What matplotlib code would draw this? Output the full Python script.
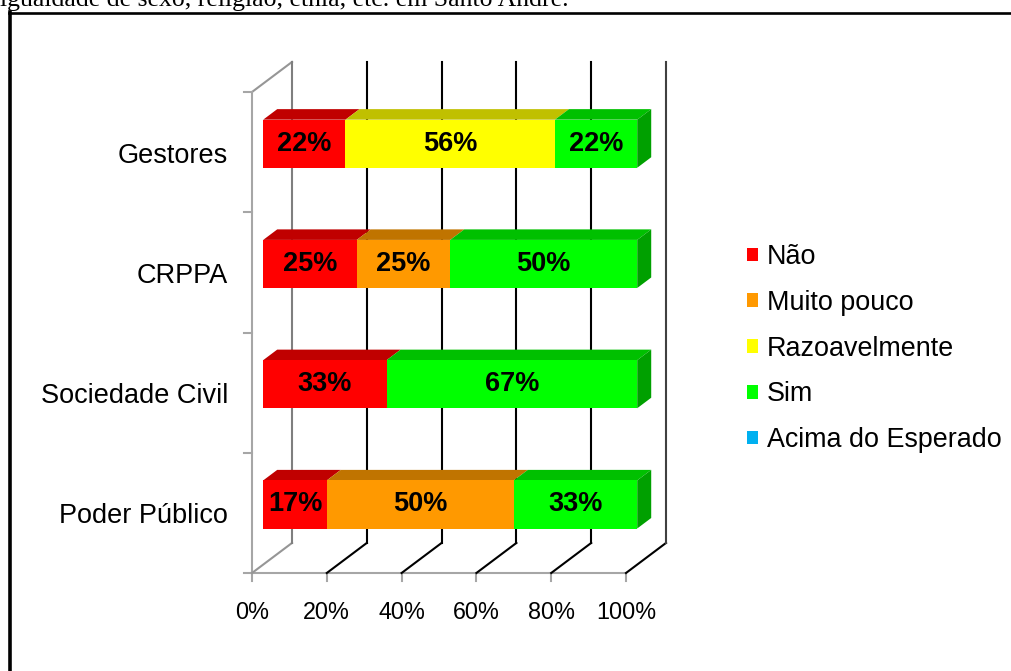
import matplotlib.pyplot as plt
from matplotlib.patches import Polygon, Patch
from matplotlib.lines import Line2D

plt.rcParams['font.family'] = ['Liberation Sans', 'DejaVu Sans']

# dados (de baixo para cima)
categorias = ['Poder Público', 'Sociedade Civil', 'CRPPA', 'Gestores']
series = ['Não', 'Muito pouco', 'Razoavelmente', 'Sim', 'Acima do Esperado']
nao = [17, 33, 25, 22]
muito_pouco = [50, 0, 25, 0]
razoavelmente = [0, 0, 0, 56]
sim = [33, 67, 50, 22]
acima = [0, 0, 0, 0]
ticks = [0, 20, 40, 60, 80, 100]

cores = ['#FF0000', '#FF9900', '#FFFF00', '#00FF00', '#00B0F0']
cores_topo = ['#C00000', '#C07400', '#C0C000', '#00C000', '#0084B4']
cores_lado = ['#A00000', '#A06000', '#A0A000', '#00A000', '#006E96']

# profundidade do "3D" (em unidades de dados)
DX, DY = 10.7, 0.25
T0, T1 = 0.28, 0.63   # frente / fundo das barras
ALT = 0.40            # altura da barra

fig = plt.figure(figsize=(10.12, 6.71), dpi=100)
ax = fig.add_axes([252 / 1012, (671 - 573) / 671, 374 / 1012, 481 / 671])
ax.set_xlim(0, 100)
ax.set_ylim(0, 4)
ax.axis('off')

# parede lateral esquerda
ax.plot([0, 0], [0, 4], color='#A6A6A6', lw=1.5, clip_on=False)
ax.plot([0, DX], [4, 4 + DY], color='#969696', lw=1.5, clip_on=False)
for i in range(5):
    ax.plot([-2.1, 0], [i, i], color='#A6A6A6', lw=1.5, clip_on=False)

# piso
ax.plot([0, 100], [0, 0], color='#A6A6A6', lw=1.5, clip_on=False)
for v in ticks:
    ax.plot([v, v], [0, -0.07], color='#A6A6A6', lw=1.5, clip_on=False)
    ax.plot([v, v + DX], [0, DY], color='black' if v > 0 else '#969696', lw=1.5, clip_on=False)
    cor = '#7F7F7F' if v == 0 else ('#404040' if v == 100 else 'black')
    ax.plot([v + DX, v + DX], [DY, 4 + DY], color=cor, lw=1.5, clip_on=False)
    ax.annotate(f'{v}%', (v, 0), xytext=(0, -28.5), textcoords='offset points',
                ha='center', va='center', fontsize=16.8, annotation_clip=False)

# barras
valores = [nao, muito_pouco, razoavelmente, sim, acima]
for i, cat in enumerate(categorias):
    yc = i + 0.5 + T0 * DY
    y0, y1 = yc - ALT / 2, yc + ALT / 2
    esq = 0
    ultimo = None
    for k, serie in enumerate(valores):
        w = serie[i]
        if w <= 0:
            continue
        x0 = esq + T0 * DX
        x1 = esq + w + T0 * DX
        dx, dy = (T1 - T0) * DX, (T1 - T0) * DY
        ax.add_patch(Polygon([(x0, y1), (x1, y1), (x1 + dx, y1 + dy), (x0 + dx, y1 + dy)],
                             closed=True, facecolor=cores_topo[k], edgecolor='none',
                             clip_on=False, zorder=3))
        ax.add_patch(Polygon([(x0, y0), (x1, y0), (x1, y1), (x0, y1)], closed=True,
                             facecolor=cores[k], edgecolor='none', clip_on=False, zorder=4))
        ax.text((x0 + x1) / 2, yc, f'{w}%', ha='center', va='center', fontsize=19.5,
                fontweight='bold', zorder=6)
        esq += w
        ultimo = (k, x1, dx, dy)
    k, x1, dx, dy = ultimo
    ax.add_patch(Polygon([(x1, y0), (x1 + dx, y0 + dy), (x1 + dx, y1 + dy), (x1, y1)],
                         closed=True, facecolor=cores_lado[k], edgecolor='none',
                         clip_on=False, zorder=3))
    ax.text(-6.4, i + 0.47, cat, ha='right', va='center', fontsize=19.5)

# legenda
handles = [Patch(facecolor=c, edgecolor='none') for c in cores]
fig.legend(handles, series, loc='upper left', bbox_to_anchor=(747 / 1012, 1 - 244 / 671),
           frameon=False, fontsize=19.4, handlelength=0.4, handleheight=0.4,
           handletextpad=0.35, labelspacing=0.735, borderpad=0, borderaxespad=0)

# texto cortado no topo e moldura
fig.text(0, 1 - 6 / 671, 'igualdade de sexo, religião, etnia, etc. em Santo André.',
         family='Liberation Serif', fontsize=18.5, va='baseline', ha='left')
fig.add_artist(Line2D([10 / 1012, 10 / 1012], [0, 1 - 12 / 671], color='black', lw=2.6,
                      transform=fig.transFigure))
fig.add_artist(Line2D([9 / 1012, 1], [1 - 12.5 / 671, 1 - 12.5 / 671], color='black', lw=1.9,
                      transform=fig.transFigure))

fig.savefig('out.png', dpi=100)
